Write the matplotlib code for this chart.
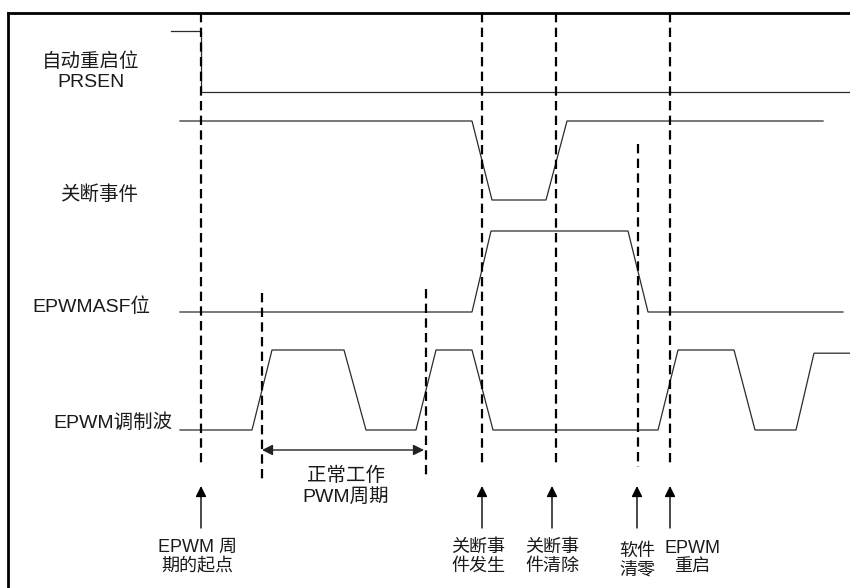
import matplotlib
matplotlib.use('Agg')
import matplotlib.pyplot as plt

# --- DATA (time axis in drawing units, levels 0 = low / 1 = high) ---
prsen_t = [171, 201, 201, 849]
prsen_lvl = [1, 1, 0, 0]

shutdown_t = [180, 472, 492, 546, 567, 823]
shutdown_lvl = [1, 1, 0, 0, 1, 1]

asf_t = [180, 472, 491, 628, 648, 843]
asf_lvl = [0, 0, 1, 1, 0, 0]

pwm_t = [180, 252, 272, 344, 366, 416, 436, 472, 493, 658, 678, 734, 755, 796, 814, 850]
pwm_lvl = [0, 0, 1, 1, 0, 0, 1, 1, 0, 0, 1, 1, 0, 0, 0.96, 0.96]

signal_names = ['自动重启位\nPRSEN', '关断事件', 'EPWMASF位', 'EPWM调制波']

event_t = [201, 262, 426, 482, 556, 638, 670]
arrow_t = [201, 482, 552, 637, 670]
arrow_labels = ['EPWM 周\n期的起点', '关断事\n件发生', '关断事\n件清除', '软件\n清零', 'EPWM\n重启']
period_label = '正常工作\nPWM周期'

# --- LAYOUT ---
FONT = ['Liberation Sans', 'Noto Sans CJK SC']
plt.rcParams['font.family'] = FONT

# (low y, high y) for each trace
prsen_y = (92, 31)
shutdown_y = (200, 121)
asf_y = (312, 231)
pwm_y = (430, 350)


def level_to_y(levels, yy):
    low, high = yy
    return [low + (high - low) * v for v in levels]


fig = plt.figure(figsize=(8.5, 5.88), dpi=100)
ax = fig.add_axes([8 / 850, 0, 842 / 850, 575 / 588])
ax.set_xlim(8, 850)
ax.set_ylim(588, 13)
ax.set_xticks([])
ax.set_yticks([])
for side in ['right', 'bottom']:
    ax.spines[side].set_visible(False)
for side in ['left', 'top']:
    ax.spines[side].set_linewidth(2)
    ax.spines[side].set_color('black')

sig_style = dict(color='#2b2b2b', linewidth=0.9, solid_joinstyle='miter')
ax.plot(prsen_t, level_to_y(prsen_lvl, prsen_y), **sig_style)
ax.plot(shutdown_t, level_to_y(shutdown_lvl, shutdown_y), **sig_style)
ax.plot(asf_t, level_to_y(asf_lvl, asf_y), **sig_style)
ax.plot(pwm_t, level_to_y(pwm_lvl, pwm_y), **sig_style)

# --- dashed event markers ---
dash_top = [13, 293, 289, 13, 13, 144, 13]
dash_bottom = [465, 480, 475, 465, 465, 467, 465]
for x, y0, y1 in zip(event_t, dash_top, dash_bottom):
    ax.plot([x, x], [y0, y1], color='black', linewidth=1.6,
            linestyle=(0, (4.2, 2.4)), zorder=3)

# --- signal names on the left ---
name_pos = [(91, 72), (99, 195), (91, 307), (113, 423)]
for name, (x, y) in zip(signal_names, name_pos):
    ax.text(x, y, name, ha='center', va='center', fontsize=14,
            color='#1a1a1a', linespacing=1.25)

# --- normal PWM period ---
ax.annotate('', xy=(262, 450), xytext=(424, 450),
            arrowprops=dict(arrowstyle='<|-|>', color='#222222', lw=1,
                            mutation_scale=16, shrinkA=0, shrinkB=0))
ax.text(346, 486, period_label, ha='center', va='center', fontsize=14,
        color='#1a1a1a', linespacing=1.2)

# --- event arrows and labels ---
label_x = [197, 478, 552, 637, 692]
label_y = [557, 557, 557, 561, 558]
for x, lx, ly, lab in zip(arrow_t, label_x, label_y, arrow_labels):
    ax.annotate('', xy=(x, 486), xytext=(x, 528),
                arrowprops=dict(arrowstyle='-|>', color='black', lw=1,
                                mutation_scale=16, shrinkA=0, shrinkB=0))
    ax.text(lx, ly, lab, ha='center', va='center', fontsize=13,
            color='#1a1a1a', linespacing=1.2)

fig.savefig('out.png', dpi=100, facecolor='white')
